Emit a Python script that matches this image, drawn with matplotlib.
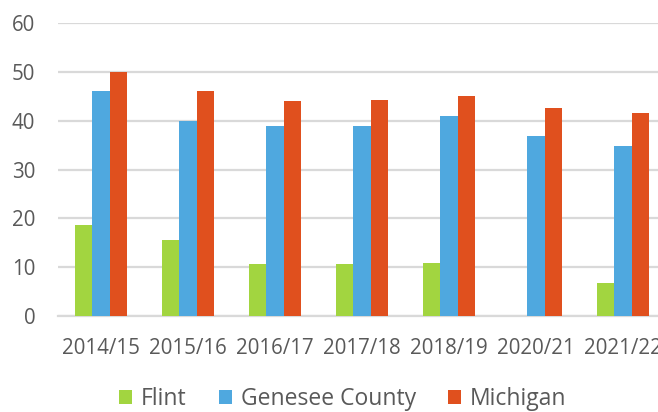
import matplotlib.pyplot as plt
import numpy as np

# data
years = ['2014/15', '2015/16', '2016/17', '2017/18', '2018/19', '2020/21', '2021/22']
flint = [18.6, 15.6, 10.6, 10.7, 10.9, np.nan, 6.8]
genesee = [46.0, 40.0, 38.9, 38.9, 41.0, 36.8, 34.8]
michigan = [50.0, 46.0, 44.0, 44.3, 45.0, 42.7, 41.5]

series_names = ['Flint', 'Genesee County', 'Michigan']
colors = ['#A2D540', '#4FA8DF', '#E0501E']
text_color = '#595959'

plt.rcParams['font.family'] = ['Open Sans', 'DejaVu Sans']

fig = plt.figure(figsize=(6.58, 4.12), dpi=100)
# the plot area runs a little past the right edge of the image, like the original
ax = fig.add_axes([0.0874, 0.233, 0.9255, 0.711])

x = np.arange(len(years))
width = 0.2
for i, (vals, name) in enumerate(zip([flint, genesee, michigan], series_names)):
    ax.bar(x + (i - 1) * width, vals, width, color=colors[i], label=name, zorder=3)

ax.set_xlim(-0.5, len(years) - 0.5)
ax.set_ylim(0, 60)
ax.set_yticks(np.arange(0, 61, 10))
ax.set_xticks(x)
ax.set_xticklabels(years)

ax.grid(axis='y', color='#D9D9D9', linewidth=1.6, zorder=0)
for side in ['top', 'right', 'left']:
    ax.spines[side].set_visible(False)
ax.spines['bottom'].set_color('#D9D9D9')
ax.spines['bottom'].set_linewidth(1.6)

ax.tick_params(axis='both', length=0, labelsize=14.8, colors=text_color)
ax.tick_params(axis='y', pad=16)
ax.tick_params(axis='x', pad=16)

fig.legend(loc='center', bbox_to_anchor=(0.521, 0.032), ncol=3, frameon=False,
           fontsize=16.5, labelcolor=text_color, handlelength=0.55, handleheight=0.55,
           handletextpad=0.4, columnspacing=1.4)

fig.savefig('out.png', dpi=100)
